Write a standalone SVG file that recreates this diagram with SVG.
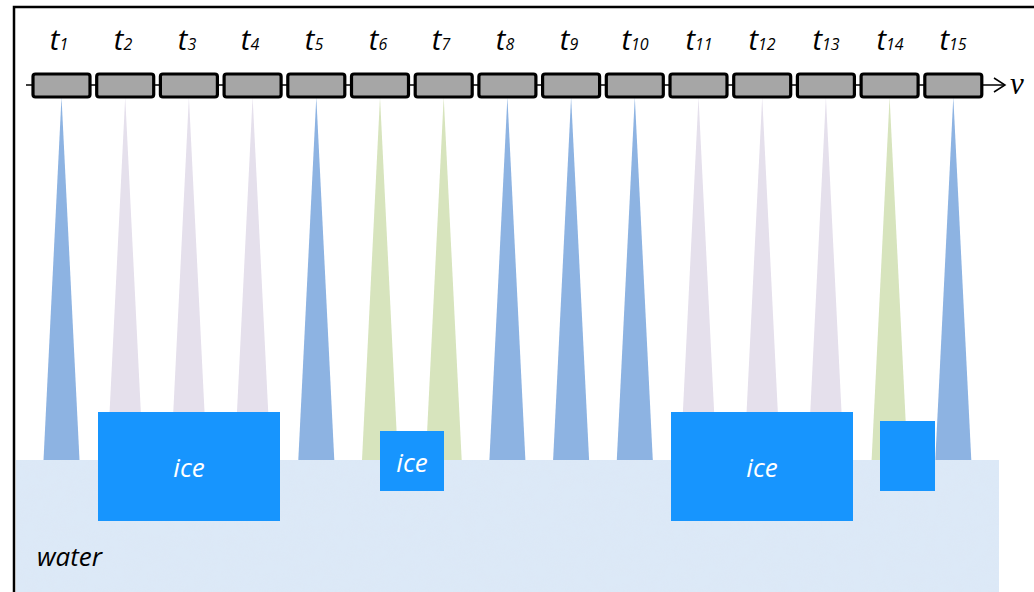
<svg xmlns="http://www.w3.org/2000/svg" width="1034" height="592" viewBox="0 0 1034 592">
  <defs>
    <style>
      .frame{fill:none;stroke:#000;stroke-width:2.5}
      .axis{stroke:#000;stroke-width:1.5;fill:none}
      .box{fill:#a6a6a6;stroke:#000;stroke-width:3.2}
      .lbl{font-family:"Open Sans","Liberation Sans",Arial,sans-serif;font-style:italic;font-size:29px;fill:#000;text-anchor:middle}
      .sub{font-size:16px}
      .blue{fill:#8db3e2}
      .lav{fill:#e5e0ec}
      .grn{fill:#d7e4bd}
      .ice{fill:#1795fe}
      .icet{font-family:"Open Sans","Liberation Sans",sans-serif;font-style:italic;font-size:26px;fill:#fff;text-anchor:middle}
      .wt{font-family:"Open Sans","Liberation Sans",sans-serif;font-style:italic;font-size:26px;fill:#000}
    </style>
    <filter id="tex" x="0" y="0" width="100%" height="100%">
      <feTurbulence type="fractalNoise" baseFrequency="0.08" numOctaves="3" seed="4" result="n"/>
      <feColorMatrix in="n" type="matrix" values="0 0 0 0 0.72  0 0 0 0 0.80  0 0 0 0 0.92  0 0 0 1.2 -0.35" result="c"/>
      <feComposite in="c" in2="SourceGraphic" operator="in"/>
    </filter>
  </defs>
  <rect width="1034" height="592" fill="#fff"/>

  <g id="water">
    <rect x="16" y="460" width="983" height="132" fill="#dce9f7"/>
    <rect x="16" y="460" width="983" height="132" fill="#dce9f7" filter="url(#tex)" opacity="0.7"/>
    <text class="wt" x="37" y="566">water</text>
  </g>

  <g id="beams">
    <polygon class="blue" points="61.5,97 43.5,460 79.5,460"/>
    <polygon class="lav" points="125.2,97 107.2,460 143.2,460"/>
    <polygon class="lav" points="188.9,97 170.9,460 206.9,460"/>
    <polygon class="lav" points="252.6,97 234.6,460 270.6,460"/>
    <polygon class="blue" points="316.3,97 298.3,460 334.3,460"/>
    <polygon class="grn" points="380,97 362,460 398,460"/>
    <polygon class="grn" points="443.7,97 425.7,460 461.7,460"/>
    <polygon class="blue" points="507.4,97 489.4,460 525.4,460"/>
    <polygon class="blue" points="571.1,97 553.1,460 589.1,460"/>
    <polygon class="blue" points="634.8,97 616.8,460 652.8,460"/>
    <polygon class="lav" points="698.5,97 680.5,460 716.5,460"/>
    <polygon class="lav" points="762.2,97 744.2,460 780.2,460"/>
    <polygon class="lav" points="825.9,97 807.9,460 843.9,460"/>
    <polygon class="grn" points="889.6,97 871.6,460 907.6,460"/>
    <polygon class="blue" points="953.3,97 935.3,460 971.3,460"/>
  </g>

  <g id="ice1"><rect class="ice" x="98" y="412" width="182" height="109"/><text class="icet" x="189" y="477">ice</text></g>
  <g id="ice2"><rect class="ice" x="380" y="431" width="64" height="60"/><text class="icet" x="412" y="472">ice</text></g>
  <g id="ice3"><rect class="ice" x="671" y="412" width="182" height="109"/><text class="icet" x="762" y="477">ice</text></g>
  <g id="ice4"><rect class="ice" x="880" y="421" width="55" height="70"/></g>

  <g id="connectors">
    <line class="axis" x1="26" y1="85" x2="1004" y2="85"/>
    <polyline class="axis" points="994,78 1005,85 994,92"/>
  </g>
  <text x="1010" y="94" font-family="'Liberation Serif','DejaVu Serif',serif" font-style="italic" font-size="31">v</text>

  <g id="bins">
    <rect class="box" x="33" y="74" width="57" height="23" rx="2.5"/>
    <rect class="box" x="96.7" y="74" width="57" height="23" rx="2.5"/>
    <rect class="box" x="160.4" y="74" width="57" height="23" rx="2.5"/>
    <rect class="box" x="224.1" y="74" width="57" height="23" rx="2.5"/>
    <rect class="box" x="287.8" y="74" width="57" height="23" rx="2.5"/>
    <rect class="box" x="351.5" y="74" width="57" height="23" rx="2.5"/>
    <rect class="box" x="415.2" y="74" width="57" height="23" rx="2.5"/>
    <rect class="box" x="478.9" y="74" width="57" height="23" rx="2.5"/>
    <rect class="box" x="542.6" y="74" width="57" height="23" rx="2.5"/>
    <rect class="box" x="606.3" y="74" width="57" height="23" rx="2.5"/>
    <rect class="box" x="670" y="74" width="57" height="23" rx="2.5"/>
    <rect class="box" x="733.7" y="74" width="57" height="23" rx="2.5"/>
    <rect class="box" x="797.4" y="74" width="57" height="23" rx="2.5"/>
    <rect class="box" x="861.1" y="74" width="57" height="23" rx="2.5"/>
    <rect class="box" x="924.8" y="74" width="57" height="23" rx="2.5"/>
  </g>

  <g id="labels">
    <text class="lbl" x="59" y="50">t<tspan class="sub">1</tspan></text>
    <text class="lbl" x="123" y="50">t<tspan class="sub">2</tspan></text>
    <text class="lbl" x="187" y="50">t<tspan class="sub">3</tspan></text>
    <text class="lbl" x="250" y="50">t<tspan class="sub">4</tspan></text>
    <text class="lbl" x="314" y="50">t<tspan class="sub">5</tspan></text>
    <text class="lbl" x="378" y="50">t<tspan class="sub">6</tspan></text>
    <text class="lbl" x="441" y="50">t<tspan class="sub">7</tspan></text>
    <text class="lbl" x="505" y="50">t<tspan class="sub">8</tspan></text>
    <text class="lbl" x="569" y="50">t<tspan class="sub">9</tspan></text>
    <text class="lbl" x="635" y="50">t<tspan class="sub">10</tspan></text>
    <text class="lbl" x="699" y="50">t<tspan class="sub">11</tspan></text>
    <text class="lbl" x="762" y="50">t<tspan class="sub">12</tspan></text>
    <text class="lbl" x="826" y="50">t<tspan class="sub">13</tspan></text>
    <text class="lbl" x="890" y="50">t<tspan class="sub">14</tspan></text>
    <text class="lbl" x="953" y="50">t<tspan class="sub">15</tspan></text>
  </g>

  <path class="frame" d="M14,592 V7 H1034"/>
</svg>
